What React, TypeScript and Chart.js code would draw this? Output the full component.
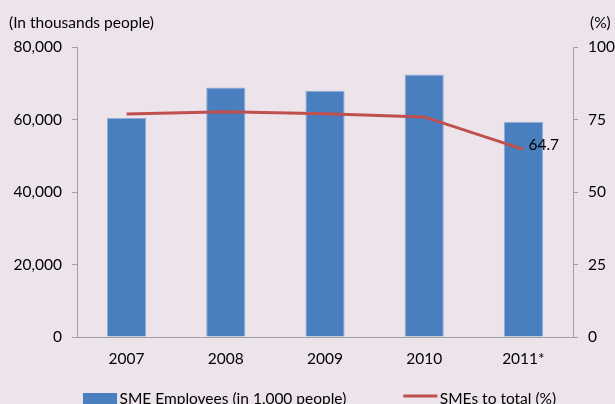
import React, { useEffect, useRef } from 'react';
import { Chart, registerables } from 'chart.js';

Chart.register(...registerables);

const categories = ['2007', '2008', '2009', '2010', '2011*'];
const employees = [60400, 68800, 67900, 72400, 59300];
const smeShare = [76.9, 77.7, 77.0, 75.9, 64.7];
const leftTicks = [0, 20000, 40000, 60000, 80000];
const rightTicks = [0, 25, 50, 75, 100];
const leftTitle = '(In thousands people)';
const rightTitle = '(%)';
const barLabel = 'SME Employees (in 1,000 people)';
const lineLabel = 'SMEs to total (%)';

const FONT = 'Lato, "Open Sans", sans-serif';
const FS = 15.5;
const BG = '#EDE4EB';
const BAR = '#4A7FBF';
const BAR_EDGE = '#8EADD8';
const LINE = '#C0504D';
const AXIS = '#A0A0A0';

const textPlugin = {
  id: 'extraText',
  afterDraw(chart: any) {
    const ctx = chart.ctx;
    ctx.save();
    ctx.font = `${FS}px ${FONT}`;
    ctx.fillStyle = '#000';
    ctx.textBaseline = 'middle';
    ctx.textAlign = 'left';
    // axis titles
    ctx.fillText(leftTitle, 9, 23);
    ctx.fillText(rightTitle, chart.scales.y1.left + 17, 23);
    // value label on last line point
    const meta = chart.getDatasetMeta(1);
    const last = meta.data.length - 1;
    const pt = meta.data[last];
    ctx.fillText(String(smeShare[last]), pt.x + 5, pt.y - 4);

    // legend
    const legendY = 399;
    const boxW = 34;
    const gap = 2.5;
    const spacing = 57;
    let x = 83;
    const ds = chart.data.datasets;
    // bar item
    ctx.fillStyle = ds[0].backgroundColor;
    ctx.fillRect(x, legendY - 6, boxW, 12);
    x += boxW + gap;
    ctx.fillStyle = '#000';
    ctx.fillText(ds[0].label, x, legendY);
    x += ctx.measureText(ds[0].label).width + spacing;
    // line item
    ctx.strokeStyle = ds[1].borderColor;
    ctx.lineWidth = 3;
    ctx.beginPath();
    ctx.moveTo(x, legendY - 3);
    ctx.lineTo(x + boxW, legendY - 3);
    ctx.stroke();
    x += boxW + gap;
    ctx.fillText(ds[1].label, x, legendY);
    ctx.restore();
  },
};

export default function App() {
  const ref = useRef<HTMLCanvasElement>(null);
  useEffect(() => {
    if (!ref.current) return;
    Chart.defaults.font.family = FONT;
    Chart.defaults.font.size = FS;
    Chart.defaults.color = '#000';
    const chart = new Chart(ref.current, {
      type: 'bar',
      data: {
        labels: categories,
        datasets: [
          {
            type: 'bar',
            label: barLabel,
            data: employees,
            backgroundColor: BAR,
            borderColor: BAR_EDGE,
            borderWidth: 1,
            categoryPercentage: 1,
            barPercentage: 0.395,
            yAxisID: 'y',
            order: 1,
          } as any,
          {
            type: 'line',
            label: lineLabel,
            data: smeShare,
            borderColor: LINE,
            backgroundColor: LINE,
            borderWidth: 3,
            pointRadius: 0,
            tension: 0,
            yAxisID: 'y1',
            order: 0,
          } as any,
        ],
      },
      options: {
        animation: false,
        responsive: false,
        maintainAspectRatio: false,
        layout: { padding: { left: 0, top: 47, right: 0, bottom: 0 } },
        plugins: {
          tooltip: { enabled: false },
          legend: { display: false },
        },
        scales: {
          x: {
            grid: { display: false, drawTicks: false },
            border: { display: true, color: AXIS, width: 1 },
            ticks: { padding: 13, font: { size: FS, family: FONT }, color: '#000' },
            afterFit: (s: any) => { s.height = 67; },
          },
          y: {
            position: 'left',
            min: 0,
            max: 80000,
            afterBuildTicks: (s: any) => { s.ticks = leftTicks.map((v) => ({ value: v })); },
            grid: { display: true, drawOnChartArea: false, drawTicks: true, tickLength: 5, color: AXIS },
            border: { display: true, color: AXIS, width: 1 },
            ticks: {
              padding: 10,
              font: { size: FS, family: FONT },
              color: '#000',
              callback: (v: any) => Number(v).toLocaleString('en-US'),
            },
            afterFit: (s: any) => { s.width = 77; },
          },
          y1: {
            position: 'right',
            min: 0,
            max: 100,
            afterBuildTicks: (s: any) => { s.ticks = rightTicks.map((v) => ({ value: v })); },
            grid: { display: true, drawOnChartArea: false, drawTicks: true, tickLength: 5, color: AXIS },
            border: { display: true, color: AXIS, width: 1 },
            ticks: { padding: 10, font: { size: FS, family: FONT }, color: '#000' },
            afterFit: (s: any) => { s.width = 42; },
          },
        },
      } as any,
      plugins: [textPlugin],
    });
    return () => chart.destroy();
  }, []);

  return (
    <div
      style={{
        position: 'fixed',
        left: 0,
        top: 0,
        width: 615,
        height: 404,
        overflow: 'hidden',
        background: BG,
      }}
    >
      <canvas ref={ref} width={615} height={404} style={{ display: 'block', width: 615, height: 404 }} />
    </div>
  );
}
